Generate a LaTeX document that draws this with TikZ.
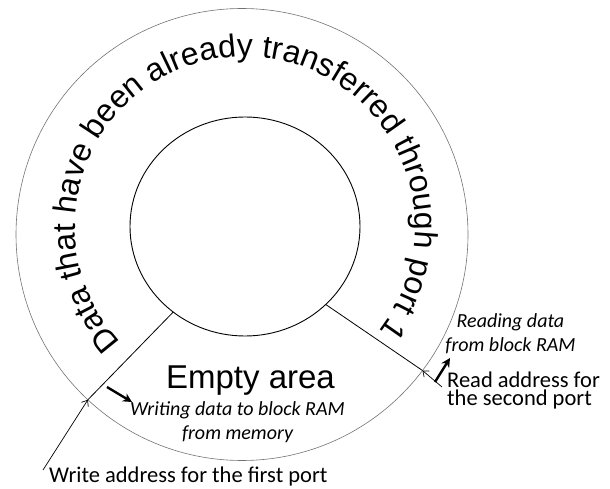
\documentclass[tikz,border=0pt]{standalone}
\usepackage{fontspec}
\setmainfont{Carlito}
\newfontfamily\arialfont{Liberation Sans}
\usetikzlibrary{arrows.meta, positioning, shapes.geometric, decorations.text}

\begin{document}
\begin{tikzpicture}[
    x=1pt, y=1pt,
    ring/.style={circle, draw=black!55, line width=0.6pt, minimum size=452pt, inner sep=0pt, outer sep=0pt},
    hole/.style={ellipse, draw, line width=0.9pt, minimum width=230pt, minimum height=219pt, inner sep=0pt, outer sep=0pt},
    radial/.style={line width=0.8pt},
    addr/.style={-{Straight Barb[length=5pt, width=8pt]}, line width=0.7pt},
    flow/.style={-{Stealth[length=9pt, width=9pt]}, line width=2.4pt},
    lbl/.style={font=\fontsize{22.5}{18}\selectfont, inner sep=0pt, align=left},
    note/.style={font=\itshape\fontsize{20}{24}\selectfont, inner sep=0pt, align=center},
]
\useasboundingbox (0,0) rectangle (610,488);
% --- the two rings ---
\node[ring] (outer) at (242,253.5) {};
\node[hole] (inner) at (245,261.5) {};
% --- text round the used part ---
\path[decorate, decoration={text along path, text align=center,
    text={|\arialfont\fontsize{32}{32}\selectfont|Data that have been already transferred through port 1}}]
    (245,261.5) ++(222:170) arc[start angle=222, end angle=-37, radius=170];
% --- boundaries of the empty area ---
\draw[radial] (inner.230) -- (outer.227);
\draw[radial] (inner.-44) -- (outer.-37.4);
\node[font=\arialfont\fontsize{33}{33}\selectfont, inner sep=0pt, anchor=base] (empty) at (250.5,100) {Empty area};
% --- write side ---
\node[lbl, anchor=base west] (waddr) at (49,6) {Write address for the first port};
\coordinate (wtail) at (43,18);
\draw[addr] (wtail) -- (outer.227);
\node[note, anchor=base] (wdata) at (237.5,49) {Writing data to block RAM\\from memory};
\coordinate (wfrom) at (107,101);
\coordinate (wto) at (132,86);
\draw[flow] (wfrom) -- (wto);
% --- read side ---
\node[lbl, anchor=base west] (raddr) at (447,83) {Read address for\\the second port};
\coordinate (rtail) at (442,101);
\draw[addr] (rtail) -- (outer.-37.4);
\node[note, anchor=base] (rdata) at (510.5,137) {Reading data\\from block RAM};
\coordinate (rfrom) at (435,106);
\coordinate (rto) at (450,130);
\draw[flow] (rfrom) -- (rto);
\end{tikzpicture}
\end{document}
